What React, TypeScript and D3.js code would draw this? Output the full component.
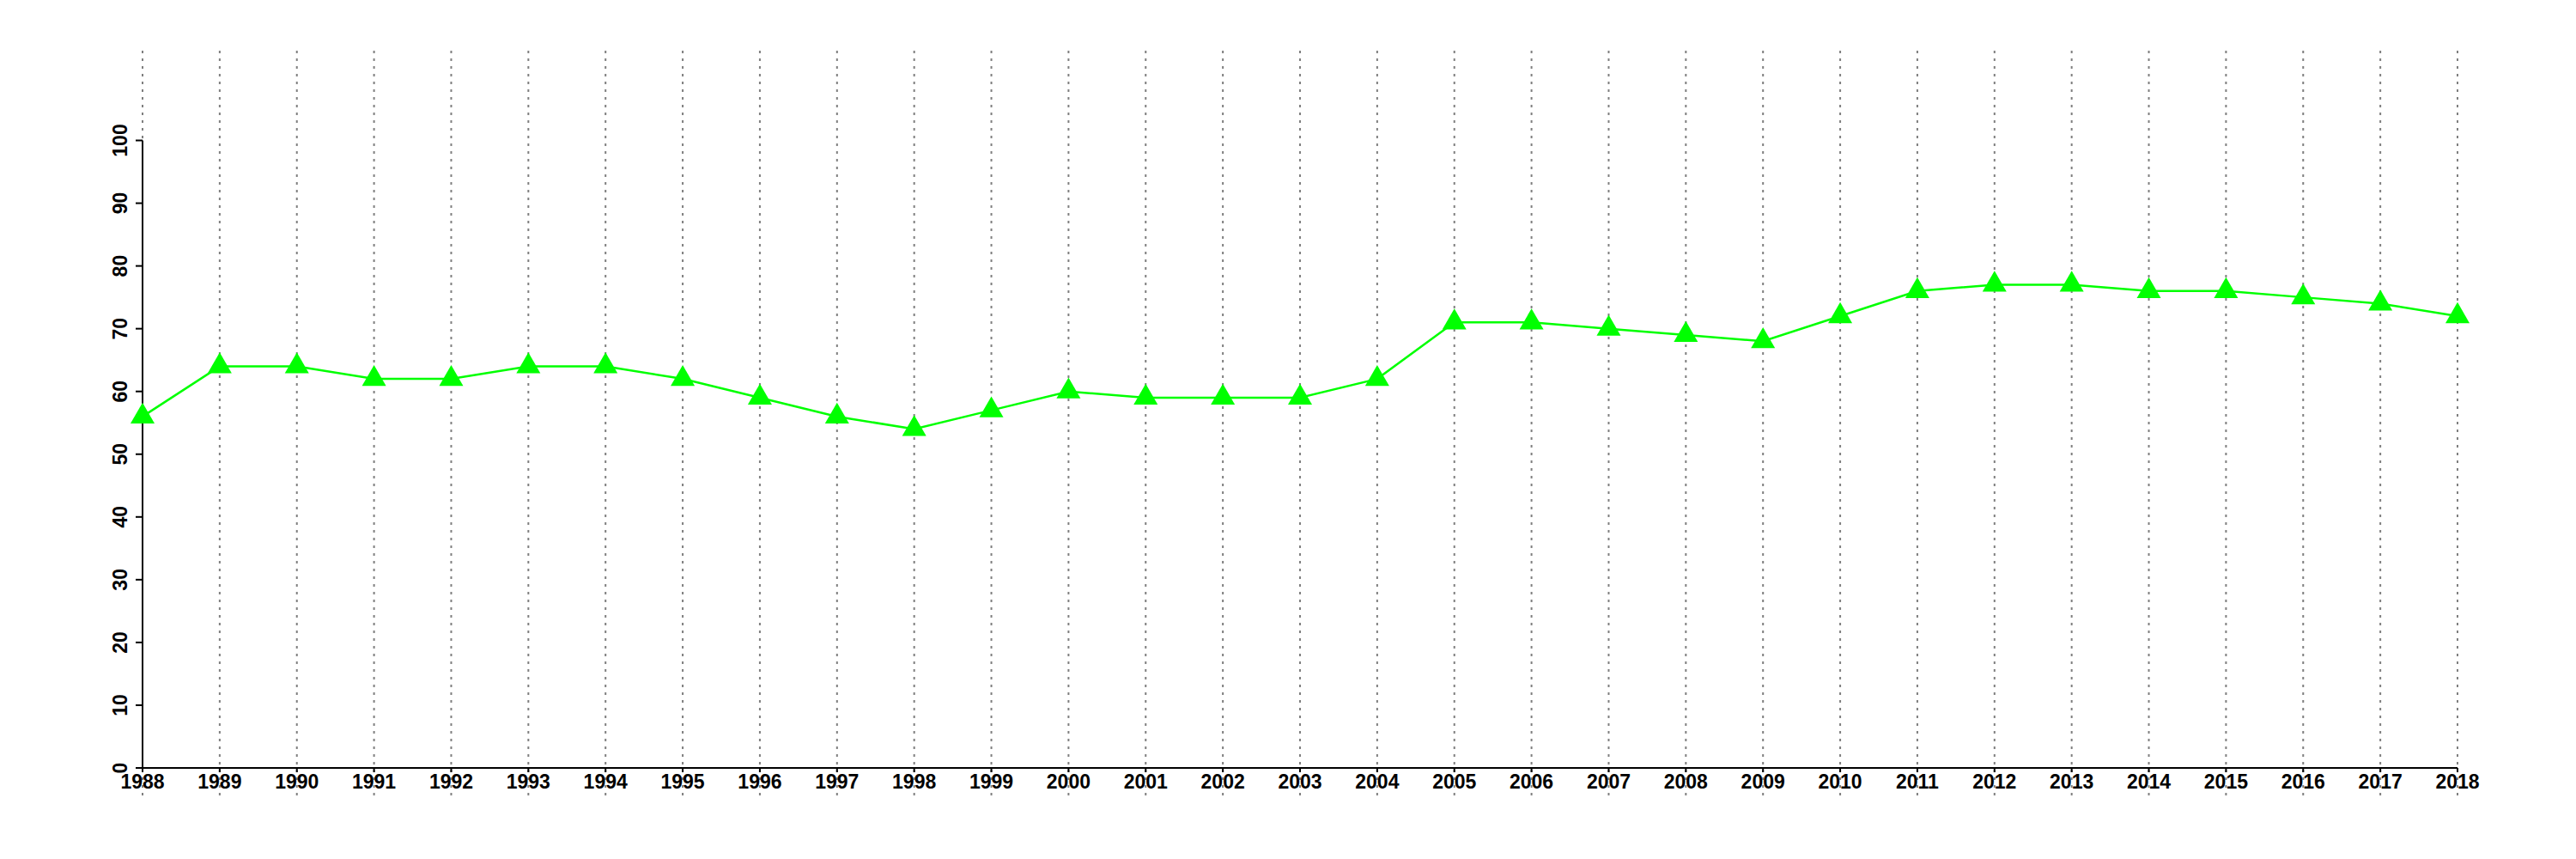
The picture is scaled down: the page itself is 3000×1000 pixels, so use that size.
import React from "react";
import * as d3 from "d3";

const years: number[] = d3.range(1988, 2019);
const values: number[] = [
  56, 64, 64, 62, 62, 64, 64, 62, 59, 56, 54, 57, 60, 59, 59, 59, 62,
  71, 71, 70, 69, 68, 72, 76, 77, 77, 76, 76, 75, 74, 72,
];
const yTicks: number[] = [0, 10, 20, 30, 40, 50, 60, 70, 80, 90, 100];

const W = 3000;
const H = 1000;
const left = 166;
const right = 2862;
const top = 163.5;
const bottom = 894;

export default function App() {
  const x = d3.scaleLinear().domain([1988, 2018]).range([left, right]);
  const y = d3.scaleLinear().domain([0, 100]).range([bottom, top]);
  const line = d3
    .line<number>()
    .x((_, i) => x(years[i]))
    .y((d) => y(d));
  const tri = d3.symbol().type(d3.symbolTriangle).size(340)() as string;
  const font = "'Liberation Sans', Arial, Helvetica, sans-serif";

  return (
    <svg
      width={W}
      height={H}
      style={{ position: "absolute", left: 0, top: 0, background: "#fff" }}
    >
      {/* vertical grid */}
      {years.map((yr) => (
        <line
          key={"g" + yr}
          x1={x(yr)}
          x2={x(yr)}
          y1={59}
          y2={927}
          stroke="#7f7f7f"
          strokeWidth={2}
          strokeDasharray="3,6"
        />
      ))}
      {/* axes */}
      <line x1={left} x2={left} y1={top} y2={bottom} stroke="#000" strokeWidth={2} />
      <line x1={left} x2={right} y1={bottom} y2={bottom} stroke="#000" strokeWidth={2} />
      {yTicks.map((t) => (
        <g key={"y" + t}>
          <line x1={left - 8} x2={left} y1={y(t)} y2={y(t)} stroke="#000" strokeWidth={2} />
          <text
            transform={`translate(${left - 18},${y(t)}) rotate(-90)`}
            textAnchor="middle"
            fontFamily={font}
            fontWeight="bold"
            fontSize={23}
            fill="#000"
          >
            {t}
          </text>
        </g>
      ))}
      {years.map((yr) => (
        <g key={"x" + yr}>
          <line x1={x(yr)} x2={x(yr)} y1={bottom} y2={bottom + 5} stroke="#000" strokeWidth={2} />
          <text
            x={x(yr)}
            y={918}
            textAnchor="middle"
            fontFamily={font}
            fontWeight="bold"
            fontSize={23}
            fill="#000"
          >
            {yr}
          </text>
        </g>
      ))}
      {/* series */}
      <path d={line(values) || ""} fill="none" stroke="#00ff00" strokeWidth={2.5} />
      {values.map((v, i) => (
        <path
          key={"p" + i}
          d={tri}
          transform={`translate(${x(years[i])},${y(v)})`}
          fill="#00ff00"
        />
      ))}
    </svg>
  );
}
